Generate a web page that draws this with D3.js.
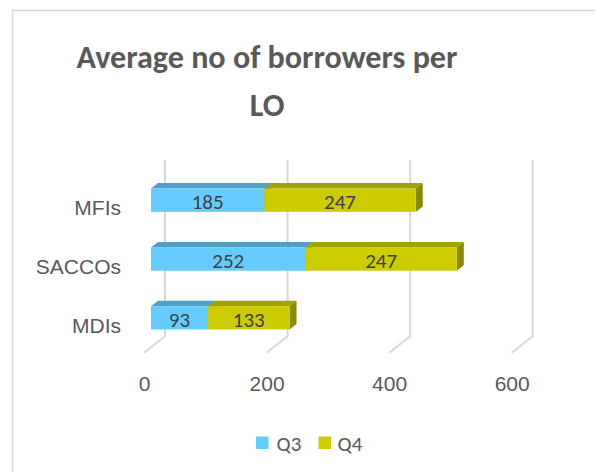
<!DOCTYPE html>
<html><head><meta charset="utf-8">
<script src="https://cdn.jsdelivr.net/npm/d3@7"></script>
<style>
html,body{margin:0;padding:0;background:#fff;}
svg{display:block;font-family:Carlito,Calibri,Lato,sans-serif;}
</style></head>
<body><svg id="chart" width="595" height="472"></svg>
<script>
const categories = ["MFIs", "SACCOs", "MDIs"];
const seriesNames = ["Q3", "Q4"];
const q3Values = [185, 252, 93];
const q4Values = [247, 247, 133];
const tickValues = [0, 200, 400, 600];
const titleLines = ["Average no of borrowers per", "LO"];

const colors = {
  Q3: {front: "#66ccff", top: "#4f9fc9", side: "#4a8fb5"},
  Q4: {front: "#cccc00", top: "#a3a300", side: "#8a8a00"}
};

const svg = d3.select("#chart");

// border
svg.append("rect").attr("x", 12.5).attr("y", 10.5).attr("width", 700).attr("height", 600)
  .attr("fill", "#fff").attr("stroke", "#d9d9d9").attr("stroke-width", 1.5);

// title
const title = svg.append("text").attr("text-anchor", "middle").attr("fill", "#595959")
  .attr("font-weight", "bold").attr("font-size", 35);
title.selectAll("tspan").data(titleLines).join("tspan")
  .attr("x", 267).attr("y", (d, i) => 68 + i * 48).text(d => d);
const w0 = title.select("tspan").node().getComputedTextLength();
if (w0 > 0) {
  const fs = Math.min(36, 35 * 381 / w0);
  title.attr("font-size", fs);
}

// scales (front plane of the floor)
const x = d3.scaleLinear().domain([0, 600]).range([144, 511.7]);
const y = d3.scaleBand().domain(categories).range([176.3, 352.7]).paddingInner(0.604).paddingOuter(0.302);
const D = {dx: 21, dy: -16.4};       // full floor depth
const bf = {dx: D.dx / 3, dy: D.dy / 3};   // bar front offset
const bd = {dx: D.dx / 3, dy: D.dy / 3};   // bar depth

// back wall gridlines + floor lines
const grid = svg.append("g").attr("stroke", "#d9d9d9").attr("stroke-width", 2).attr("fill", "none");
const yTopBack = y.range()[0] + D.dy, yBotBack = y.range()[1] + D.dy, yBotFront = y.range()[1];
tickValues.forEach(v => {
  grid.append("path").attr("d", `M${x(v) + D.dx},${yTopBack} L${x(v) + D.dx},${yBotBack} L${x(v)},${yBotFront}`);
});

// stacked data
const rows = categories.map((c, i) => ({cat: c, Q3: q3Values[i], Q4: q4Values[i]}));
const stacked = d3.stack().keys(seriesNames)(rows);

const barsG = svg.append("g");
stacked.forEach(layer => {
  const key = layer.key;
  layer.forEach(seg => {
    const cat = seg.data.cat;
    const x0 = x(seg[0]) + bf.dx, x1 = x(seg[1]) + bf.dx;
    const y0 = y(cat) + bf.dy, y1 = y0 + y.bandwidth();
    const g = barsG.append("g");
    // top face
    g.append("path").attr("d", `M${x0},${y0} L${x0 + bd.dx},${y0 + bd.dy} L${x1 + bd.dx},${y0 + bd.dy} L${x1},${y0} Z`)
      .attr("fill", colors[key].top);
    // side face
    g.append("path").attr("d", `M${x1},${y0} L${x1 + bd.dx},${y0 + bd.dy} L${x1 + bd.dx},${y1 + bd.dy} L${x1},${y1} Z`)
      .attr("fill", colors[key].side);
    // front face
    g.append("rect").attr("x", x0).attr("y", y0).attr("width", x1 - x0).attr("height", y1 - y0)
      .attr("fill", colors[key].front);
    // label
    g.append("text").attr("x", (x0 + x1) / 2).attr("y", (y0 + y1) / 2 + 2)
      .attr("text-anchor", "middle").attr("dominant-baseline", "central")
      .attr("font-size", 21).attr("fill", "#404040").text(seg[1] - seg[0]);
  });
});

// value axis
const xAxis = svg.append("g").attr("transform", "translate(0,376)")
  .call(d3.axisBottom(x).tickValues(tickValues).tickSize(0).tickPadding(0));
xAxis.select(".domain").remove();
xAxis.selectAll("text").attr("font-size", 21).attr("fill", "#595959")
  .attr("font-family", null).attr("dy", "0.71em");

// category axis
const yAxis = svg.append("g").attr("transform", "translate(121,3)")
  .call(d3.axisLeft(y).tickSize(0).tickPadding(0));
yAxis.select(".domain").remove();
yAxis.selectAll("text").attr("font-size", 21).attr("fill", "#595959").attr("font-family", null);

// legend
const legendItems = [{name: "Q3", sx: 256, tx: 276.5}, {name: "Q4", sx: 318.5, tx: 337.5}];
const lg = svg.append("g");
legendItems.forEach(d => {
  lg.append("rect").attr("x", d.sx).attr("y", 436.5).attr("width", 12.5).attr("height", 12.5)
    .attr("fill", colors[d.name].front);
  lg.append("text").attr("x", d.tx).attr("y", 443.5).attr("dominant-baseline", "central")
    .attr("font-size", 21).attr("fill", "#595959").text(d.name);
});
</script></body></html>
